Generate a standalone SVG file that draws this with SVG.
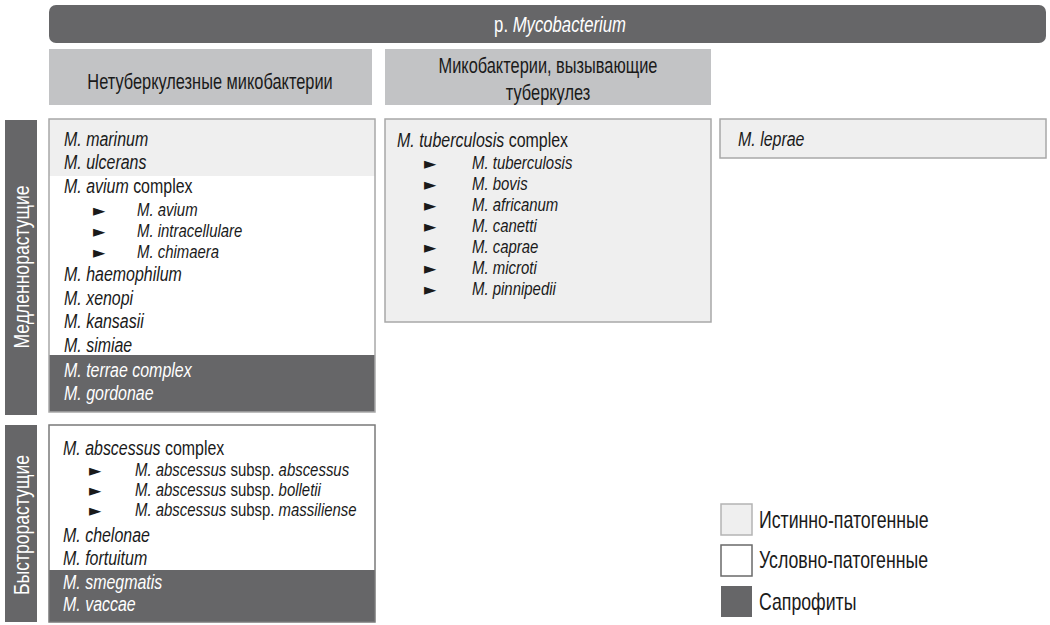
<svg xmlns="http://www.w3.org/2000/svg" width="1050" height="625" viewBox="0 0 1050 625">
<style>
text{font-family:"Liberation Sans",Arial,sans-serif;fill:#1a1a1a}
.hd{font-size:22px;fill:#fff;text-anchor:middle}
.sh{font-size:22px;text-anchor:middle}
.side{font-size:22px;fill:#fff;text-anchor:middle}
.it{font-size:21px;font-style:italic}
.sub{font-size:18px;font-style:italic}
.w{fill:#fff}
.n{font-style:normal}
.ar{font-size:16px;font-family:"DejaVu Sans",sans-serif}
.lg{font-size:23px}
.dark{fill:#666668}
.light{fill:#efefef}
.subhd{fill:#c2c3c5}
.bord{fill:none;stroke:#a8a8a8;stroke-width:1.5}
</style>
<g id="header">
<rect x="49" y="5" width="997" height="38" rx="7" class="dark"/>
<text transform="translate(560 32) scale(.76 1)" class="hd">р. <tspan font-style="italic">Mycobacterium</tspan></text>
</g>
<g id="ntm-header">
<rect x="49" y="49" width="323" height="56" class="subhd"/>
<text transform="translate(210 89) scale(.745 1)" class="sh">Нетуберкулезные микобактерии</text>
</g>
<g id="tb-header">
<rect x="385" y="49" width="326" height="56" class="subhd"/>
<text transform="translate(548 73) scale(.745 1)" class="sh">Микобактерии, вызывающие</text>
<text transform="translate(548 100) scale(.745 1)" class="sh">туберкулез</text>
</g>
<g id="slow-label">
<rect x="5" y="120" width="32" height="295" class="dark"/>
<text transform="translate(29 267) rotate(-90) scale(.8 1)" class="side">Медленнорастущие</text>
</g>
<g id="fast-label">
<rect x="5" y="425" width="32" height="197" class="dark"/>
<text transform="translate(29 525) rotate(-90) scale(.8 1)" class="side">Быстрорастущие</text>
</g>
<g id="slow-ntm">
<rect x="49" y="119" width="326" height="57" class="light"/>
<rect x="49" y="176" width="326" height="179" fill="#fff"/>
<rect x="49" y="355" width="326" height="57" class="dark"/>
<rect x="49" y="119" width="326" height="293" class="bord"/>
<text transform="translate(64 146) scale(.76 1)" class="it">M. marinum</text>
<text transform="translate(64 169) scale(.76 1)" class="it">M. ulcerans</text>
<text transform="translate(64 193) scale(.76 1)" class="it">M. avium <tspan class="n">complex</tspan></text>
<text x="93" y="216" class="ar">►</text><text transform="translate(137 216) scale(.83 1)" class="sub">M. avium</text>
<text x="93" y="237" class="ar">►</text><text transform="translate(137 237) scale(.83 1)" class="sub">M. intracellulare</text>
<text x="93" y="258" class="ar">►</text><text transform="translate(137 258) scale(.83 1)" class="sub">M. chimaera</text>
<text transform="translate(64 281) scale(.76 1)" class="it">M. haemophilum</text>
<text transform="translate(64 305) scale(.76 1)" class="it">M. xenopi</text>
<text transform="translate(64 328) scale(.76 1)" class="it">M. kansasii</text>
<text transform="translate(64 352) scale(.76 1)" class="it">M. simiae</text>
<text transform="translate(64 377) scale(.76 1)" class="it w">M. terrae complex</text>
<text transform="translate(64 400) scale(.76 1)" class="it w">M. gordonae</text>
</g>
<g id="tb-complex">
<rect x="385" y="119" width="326" height="203" class="light"/>
<rect x="385" y="119" width="326" height="203" class="bord"/>
<text transform="translate(397 147) scale(.76 1)" class="it">M. tuberculosis <tspan class="n">complex</tspan></text>
<text x="424" y="169" class="ar">►</text><text transform="translate(472 169) scale(.83 1)" class="sub">M. tuberculosis</text>
<text x="424" y="190" class="ar">►</text><text transform="translate(472 190) scale(.83 1)" class="sub">M. bovis</text>
<text x="424" y="211" class="ar">►</text><text transform="translate(472 211) scale(.83 1)" class="sub">M. africanum</text>
<text x="424" y="232" class="ar">►</text><text transform="translate(472 232) scale(.83 1)" class="sub">M. canetti</text>
<text x="424" y="253" class="ar">►</text><text transform="translate(472 253) scale(.83 1)" class="sub">M. caprae</text>
<text x="424" y="274" class="ar">►</text><text transform="translate(472 274) scale(.83 1)" class="sub">M. microti</text>
<text x="424" y="295" class="ar">►</text><text transform="translate(472 295) scale(.83 1)" class="sub">M. pinnipedii</text>
</g>
<g id="leprae">
<rect x="720" y="119" width="326" height="39" class="light"/>
<rect x="720" y="119" width="326" height="39" class="bord"/>
<text transform="translate(738 146) scale(.76 1)" class="it">M. leprae</text>
</g>
<g id="fast-ntm">
<rect x="49" y="425" width="326" height="145" fill="#fff"/>
<rect x="49" y="570" width="326" height="52" class="dark"/>
<rect x="49" y="425" width="326" height="197" fill="none" stroke="#7a7a7a" stroke-width="1.5"/>
<text transform="translate(63 455) scale(.76 1)" class="it">M. abscessus <tspan class="n">complex</tspan></text>
<text x="89" y="476" class="ar">►</text><text transform="translate(135 476) scale(.83 1)" class="sub">M. abscessus <tspan class="n">subsp.</tspan> abscessus</text>
<text x="89" y="496" class="ar">►</text><text transform="translate(135 496) scale(.83 1)" class="sub">M. abscessus <tspan class="n">subsp.</tspan> bolletii</text>
<text x="89" y="516" class="ar">►</text><text transform="translate(135 516) scale(.83 1)" class="sub">M. abscessus <tspan class="n">subsp.</tspan> massiliense</text>
<text transform="translate(63 542) scale(.76 1)" class="it">M. chelonae</text>
<text transform="translate(63 565) scale(.76 1)" class="it">M. fortuitum</text>
<text transform="translate(63 589) scale(.76 1)" class="it w">M. smegmatis</text>
<text transform="translate(63 611) scale(.76 1)" class="it w">M. vaccae</text>
</g>
<g id="legend">
<rect x="721" y="504" width="31" height="31" class="light" stroke="#b4b4b4" stroke-width="1.5"/>
<text transform="translate(759 528) scale(.77 1)" class="lg">Истинно-патогенные</text>
<rect x="721" y="545" width="31" height="31" fill="#fff" stroke="#6a6a6a" stroke-width="1.5"/>
<text transform="translate(759 568) scale(.77 1)" class="lg">Условно-патогенные</text>
<rect x="721" y="586" width="31" height="31" class="dark"/>
<text transform="translate(759 610) scale(.77 1)" class="lg">Сапрофиты</text>
</g>
<g id="connectors"></g>
</svg>
